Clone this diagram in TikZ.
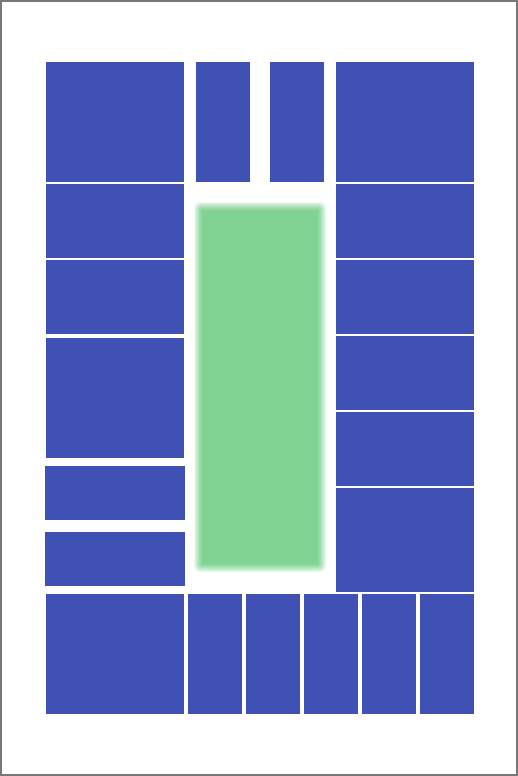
\documentclass[tikz,border=0pt]{standalone}
\definecolor{tileblue}{RGB}{63,81,181}
\definecolor{padgreen}{RGB}{129,211,147}
\definecolor{framegray}{RGB}{119,119,119}
\tikzset{
  tile/.style={fill=tileblue},
  frameline/.style={draw=framegray, line width=2pt}
}
\begin{document}
\begin{tikzpicture}[x=1pt,y=-1pt]
\useasboundingbox (0,0) rectangle (518,776);
\fill[white] (0,0) rectangle (518,776);
% left column
\foreach \xa/\ya/\xb/\yb in {46/62/184/182,46/184/184/258,46/260/184/334,46/338/184/458,45/466/185/520,45/532/185/586} {
  \fill[tile] (\xa,\ya) rectangle (\xb,\yb);
}
% top middle
\foreach \xa/\xb in {196/250,270/324} {
  \fill[tile] (\xa,62) rectangle (\xb,182);
}
% right column
\foreach \ya/\yb in {62/182,184/258,260/334,336/410,412/486,488/592} {
  \fill[tile] (336,\ya) rectangle (474,\yb);
}
% bottom row
\foreach \xa/\xb in {46/184,188/242,246/300,304/358,362/416,420/474} {
  \fill[tile] (\xa,594) rectangle (\xb,714);
}
% blurred green panel
\foreach \k in {9,...,0} {
  \pgfmathtruncatemacro\pct{100*(1-(\k/10)^1.5)}
  \fill[padgreen!\pct!white, rounded corners=\k*0.7pt+0.1pt] (203-\k,211-\k) rectangle (317+\k,563+\k);
}
% frame
\draw[frameline] (1,1) rectangle (517,775);
\end{tikzpicture}
\end{document}
